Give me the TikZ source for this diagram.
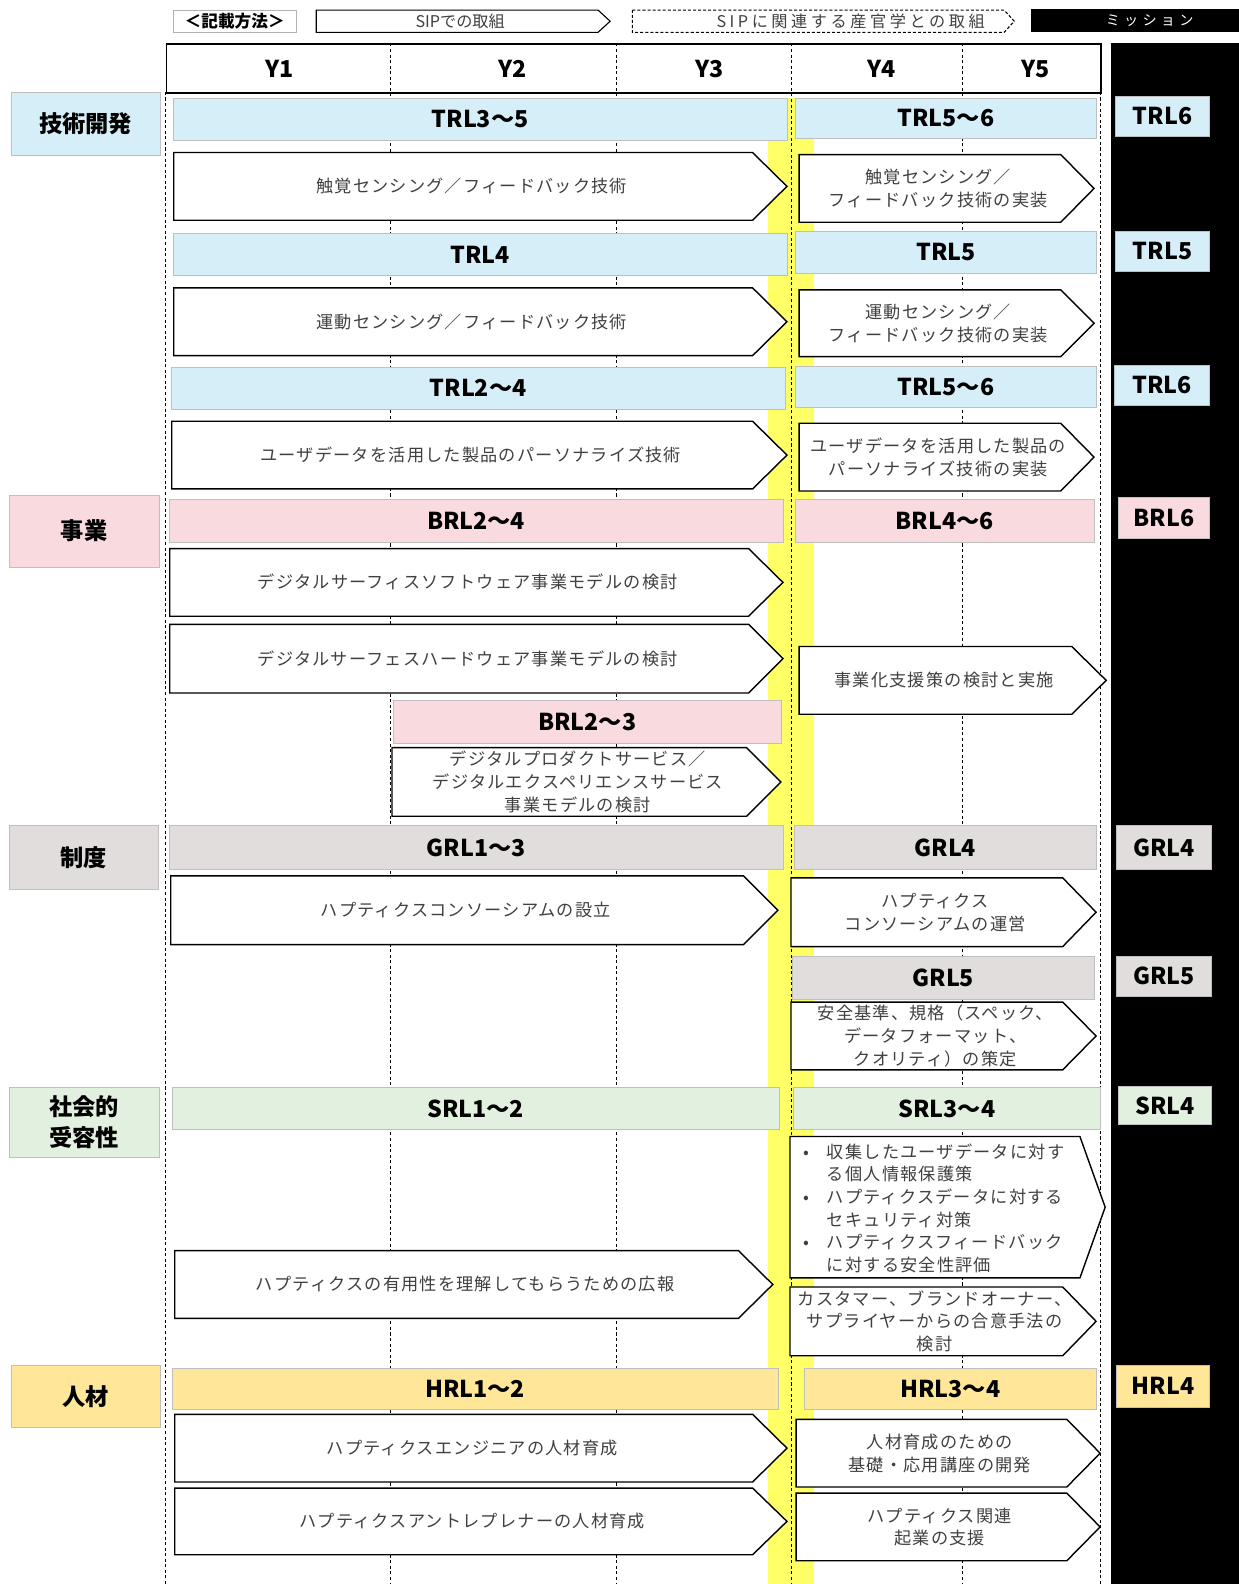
\documentclass[tikz,border=0pt]{standalone}
\usepackage{fontspec}
\setmainfont{Noto Sans CJK JP}
\definecolor{cblue}{HTML}{D6EEF8}
\definecolor{cpink}{HTML}{F8DADF}
\definecolor{cgray}{HTML}{E0DDDC}
\definecolor{cgreen}{HTML}{E2F0DF}
\definecolor{chr}{HTML}{FFE699}
\definecolor{cyel}{HTML}{FFFF66}
\tikzset{
  barst/.style={draw=black!25, line width=0.6pt, inner sep=0pt, font=\fontsize{23}{26}\selectfont\bfseries, text=black},
  catst/.style={draw=black!25, line width=0.6pt, inner sep=0pt, align=center, font=\fontsize{23}{30}\selectfont\bfseries},
  chevst/.style={draw=black, line width=1.4pt, fill=white, line join=miter},
  chevtxt/.style={text=black!75, align=center, font=\fontsize{17}{22.5}\selectfont\addfontfeature{LetterSpace=7}},
  legtxt/.style={text=black!75, font=\fontsize{16}{18}\selectfont},
  vline/.style={dash pattern=on 3pt off 2.5pt, line width=0.7pt, draw=black},
  yrtxt/.style={font=\fontsize{23}{26}\selectfont\bfseries},
}
\newcommand\barbox[7]{\node[barst, fill=#6, minimum width={(#4)-(#2)}, minimum height={(#5)-(#3)}, anchor=north west] (#1) at (#2,#3) {#7};}
\newcommand\catbox[7]{\node[catst, fill=#6, minimum width={(#4)-(#2)}, minimum height={(#5)-(#3)}, anchor=north west] (#1) at (#2,#3) {#7};}
\newcommand\chev[9]{%
  \draw[chevst,#7] (#2,#3) -- ({#4-#6},#3) -- (#4,{(#3+#5)/2}) -- ({#4-#6},#5) -- (#2,#5) -- cycle;
  \node[#8] (#1) at ({(#2+#4-#6/2)/2},{(#3+#5)/2}) {#9};}
\begin{document}
\begin{tikzpicture}[x=1pt,y=-1pt]
\useasboundingbox (0,0) rectangle (1226,1568);
% yellow band
\fill[cyel] (760,97) rectangle (806,1568);
% dashed year lines
\foreach \xx in {386,610,783,953} \draw[vline] (\xx,43) -- (\xx,1568);
\foreach \xx in {164,1089} \draw[vline] (\xx,91) -- (\xx,1568);
% header
\node[draw=black, line width=1.6pt, minimum width=925, minimum height=48, inner sep=0pt, anchor=north west] (hdr) at (164,43) {};
\node[yrtxt] (y1) at (277,68) {Y1};
\node[yrtxt] (y2) at (507,68) {Y2};
\node[yrtxt] (y3) at (702,68) {Y3};
\node[yrtxt] (y4) at (873,68) {Y4};
\node[yrtxt] (y5) at (1025,68) {Y5};
% black mission column
\fill[black] (1100,43) rectangle (1226,1568);
% legend
\node[draw=black!30, line width=0.6pt, minimum width=122, minimum height=22, inner sep=0pt, anchor=north west, font=\fontsize{16.5}{18}\selectfont\bfseries] (leg0) at (171,10) {＜記載方法＞};
\chev{leg1}{313}{10}{604}{32}{12}{line width=1.1pt}{legtxt}{SIPでの取組}
\chev{leg2}{626}{10}{1004}{32}{10}{line width=1.1pt, dash pattern=on 3pt off 2pt}{legtxt}{}
\node[legtxt, font=\fontsize{16}{18}\selectfont\addfontfeature{LetterSpace=22}] (leg2t) at (842,21) {SIPに関連する産官学との取組};
\fill[black] (1021,9) rectangle (1226,32);
\node[text=white, inner sep=0pt, font=\fontsize{14}{16}\selectfont\addfontfeature{LetterSpace=30}] (leg3) at (1138,20.5) {ミッション};
% categories
\catbox{c1}{11}{91}{158}{153}{cblue}{技術開発}
\catbox{c2}{9}{490}{157}{561}{cpink}{事業}
\catbox{c3}{9}{817}{156}{880}{cgray}{制度}
\catbox{c4}{9}{1076}{157}{1145}{cgreen}{社会的\\受容性}
\catbox{c5}{11}{1351}{158}{1413}{chr}{人材}
% bars
\barbox{b1}{171}{97}{779}{139}{cblue}{TRL3～5}
\barbox{b2}{787}{97}{1085}{137}{cblue}{TRL5～6}
\barbox{b3}{171}{231}{779}{272}{cblue}{TRL4}
\barbox{b4}{787}{229}{1085}{270}{cblue}{TRL5}
\barbox{b5}{169}{363}{777}{405}{cblue}{TRL2～4}
\barbox{b6}{787}{362}{1085}{403}{cblue}{TRL5～6}
\barbox{b7}{167}{494}{775}{537}{cpink}{BRL2～4}
\barbox{b8}{787}{494}{1083}{537}{cpink}{BRL4～6}
\barbox{b9}{389}{693}{773}{735}{cpink}{BRL2～3}
\barbox{b10}{167}{817}{775}{860}{cgray}{GRL1～3}
\barbox{b11}{786}{817}{1085}{860}{cgray}{GRL4}
\barbox{b12}{784}{946}{1083}{989}{cgray}{GRL5}
\barbox{b13}{170}{1076}{771}{1118}{cgreen}{SRL1～2}
\barbox{b14}{785}{1076}{1089}{1118}{cgreen}{SRL3～4}
\barbox{b15}{170}{1354}{770}{1395}{chr}{HRL1～2}
\barbox{b16}{796}{1354}{1085}{1395}{chr}{HRL3～4}
% left arrows
\chev{a1}{172}{151}{779}{218}{34}{}{chevtxt}{触覚センシング／フィードバック技術}
\chev{a2}{172}{285}{779}{352}{34}{}{chevtxt}{運動センシング／フィードバック技術}
\chev{a3}{170}{417}{779}{484}{34}{}{chevtxt}{ユーザデータを活用した製品のパーソナライズ技術}
\chev{a4}{168}{543}{775}{610}{34}{}{chevtxt}{デジタルサーフィスソフトウェア事業モデルの検討}
\chev{a5}{168}{618}{775}{686}{34}{}{chevtxt}{デジタルサーフェスハードウェア事業モデルの検討}
\chev{a6}{388}{740}{773}{808}{34}{}{chevtxt}{デジタルプロダクトサービス／\\デジタルエクスペリエンスサービス\\事業モデルの検討}
\chev{a7}{169}{867}{770}{935}{34}{}{chevtxt}{ハプティクスコンソーシアムの設立}
\chev{a8}{173}{1238}{765}{1305}{34}{}{chevtxt}{ハプティクスの有用性を理解してもらうための広報}
\chev{a9}{173}{1400}{779}{1467}{34}{}{chevtxt}{ハプティクスエンジニアの人材育成}
\chev{a10}{173}{1473}{779}{1539}{34}{}{chevtxt}{ハプティクスアントレプレナーの人材育成}
% right arrows
\chev{r1}{791}{153}{1083}{220}{33}{}{chevtxt}{触覚センシング／\\フィードバック技術の実装}
\chev{r2}{791}{287}{1083}{353}{33}{}{chevtxt}{運動センシング／\\フィードバック技術の実装}
\chev{r3}{791}{419}{1083}{486}{33}{}{chevtxt}{ユーザデータを活用した製品の\\パーソナライズ技術の実装}
\chev{r4}{791}{640}{1095}{707}{34}{}{chevtxt}{事業化支援策の検討と実施}
\chev{r5}{783}{869}{1085}{937}{33}{}{chevtxt}{ハプティクス\\コンソーシアムの運営}
\chev{r6}{783}{992}{1085}{1059}{33}{}{chevtxt}{安全基準、規格（スペック、\\データフォーマット、\\クオリティ）の策定}
\chev{r7}{782}{1125}{1094}{1265}{25}{}{chevtxt}{}
\node[chevtxt, align=left, anchor=west] (r7t) at (792,1196) {\makebox[23pt][l]{•}収集したユーザデータに対す\\\hspace*{23pt}る個人情報保護策\\\makebox[23pt][l]{•}ハプティクスデータに対する\\\hspace*{23pt}セキュリティ対策\\\makebox[23pt][l]{•}ハプティクスフィードバック\\\hspace*{23pt}に対する安全性評価};
\chev{r8}{782}{1274}{1085}{1342}{33}{}{chevtxt}{カスタマー、ブランドオーナー、\\サプライヤーからの合意手法の\\検討}
\chev{r9}{788}{1405}{1089}{1472}{33}{}{chevtxt}{人材育成のための\\基礎・応用講座の開発}
\chev{r10}{788}{1478}{1089}{1545}{33}{}{chevtxt}{ハプティクス関連\\起業の支援}
% missions
\barbox{m1}{1104}{95}{1197}{135}{cblue}{TRL6}
\barbox{m2}{1104}{229}{1197}{268}{cblue}{TRL5}
\barbox{m3}{1103}{361}{1197}{401}{cblue}{TRL6}
\barbox{m4}{1107}{492}{1197}{533}{cpink}{BRL6}
\barbox{m5}{1105}{817}{1199}{860}{cgray}{GRL4}
\barbox{m6}{1105}{946}{1199}{986}{cgray}{GRL5}
\barbox{m7}{1107}{1075}{1199}{1113}{cgreen}{SRL4}
\barbox{m8}{1105}{1351}{1197}{1393}{chr}{HRL4}
\end{tikzpicture}
\end{document}
